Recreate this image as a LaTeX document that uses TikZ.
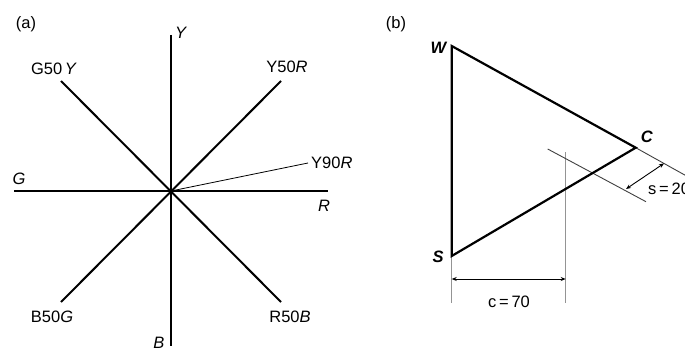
\documentclass[tikz,border=0pt]{standalone}
\usepackage{fontspec}
\setmainfont{Liberation Sans}
\usetikzlibrary{arrows.meta, positioning, calc}
\tikzstyle{axis} = [line width=2pt, black]
\tikzstyle{hue} = [line width=0.8pt, black]
\tikzstyle{side} = [line width=2.2pt, black, line join=miter]
\tikzstyle{guide} = [line width=1.2pt, black!42]
\tikzstyle{slant} = [line width=0.9pt, black!75]
\tikzstyle{dim} = [line width=0.9pt, black, {Stealth[length=5pt,width=4pt]}-{Stealth[length=5pt,width=4pt]}]
\tikzstyle{lbl} = [inner sep=0pt, font=\fontsize{16.5}{19}\selectfont]

\begin{document}
\begin{tikzpicture}[x=1pt, y=-1pt]
        \useasboundingbox (0,0) rectangle (685,350);
        \clip (0,0) rectangle (685,350);

        % Hue circle (Left Panel)
        \coordinate (o) at (171,191);
        \coordinate (ytop) at (171,35);
        \coordinate (bbot) at (171,346);
        \coordinate (gleft) at (14,191);
        \coordinate (rright) at (328,191);
        \coordinate (g50y) at (61,81);
        \coordinate (y50r) at (281,81);
        \coordinate (b50g) at (61,302);
        \coordinate (r50b) at (281,302);
        \coordinate (y90r) at (308,163);

        \draw [axis] (ytop) -- (bbot);
        \draw [axis] (gleft) -- (rright);
        \draw [axis] (g50y) -- (r50b);
        \draw [axis] (y50r) -- (b50g);
        \draw [hue] (o) -- (y90r);
        \fill (o) circle (1.8pt);

        \node (lbla) [lbl] at (26,24) {(a)};
        \node (lblY) [lbl] at (181,33) {\textit{Y}};
        \node (lblG50Y) [lbl] at (54,69) {G50\,\textit{Y}};
        \node (lblY50R) [lbl] at (287,67) {Y50\textit{R}};
        \node (lblY90R) [lbl, anchor=west] at (311,163) {Y90\textit{R}};
        \node (lblG) [lbl] at (19,179) {\textit{G}};
        \node (lblR) [lbl] at (324,206) {\textit{R}};
        \node (lblB50G) [lbl] at (52,317) {B50\textit{G}};
        \node (lblR50B) [lbl] at (290,317) {R50\textit{B}};
        \node (lblB) [lbl] at (159,343) {\textit{B}};

        % Colour triangle (Right Panel)
        \coordinate (w) at (451.7,46);
        \coordinate (s) at (451.7,256);
        \coordinate (c) at (635.7,147.7);
        \coordinate (sbot) at (451.7,303);
        \coordinate (ctop) at (565.7,152);
        \coordinate (cbot) at (565.7,303);
        \coordinate (cfar) at (700,183.5);
        \coordinate (stop) at (547.7,149);
        \coordinate (send) at (646,201.7);

        \draw [guide] (s) -- (sbot);
        \draw [guide] (ctop) -- (cbot);
        \draw [slant] (c) -- (cfar);
        \draw [slant] (stop) -- (send);
        \draw [side] (w) -- (c) -- (s) -- cycle;

        % Dimensions
        \draw [dim] (sbot |- 0,279) -- (cbot |- 0,279);
        \draw [dim] (626,189) -- (664,163.4);

        \node (lblb) [lbl] at (396,24) {(b)};
        \node (lblW) [lbl] at (439,48) {\textbf{\textit{W}}};
        \node (lblS) [lbl] at (438,257) {\textbf{\textit{S}}};
        \node (lblC) [lbl] at (647,137) {\textbf{\textit{C}}};
        \node (lblc) [lbl] at (509,302) {c\,=\,70};
        \node (lbls) [lbl, anchor=west] at (648,189) {s\,=\,20};

    \end{tikzpicture}
\end{document}
